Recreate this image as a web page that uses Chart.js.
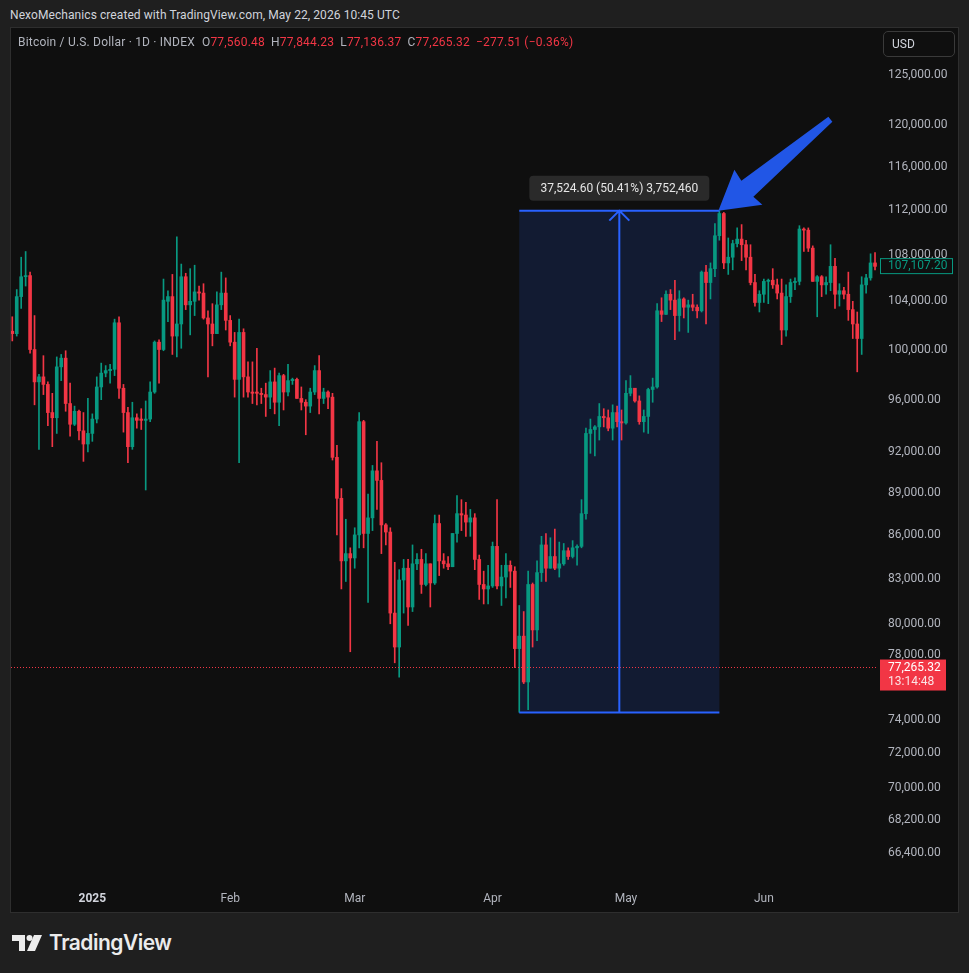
<!DOCTYPE html>
<html>
<head>
<meta charset="utf-8">
<script src="https://cdn.jsdelivr.net/npm/chart.js@4.4.1/dist/chart.umd.min.js"></script>
<style>
html, body { margin: 0; padding: 0; width: 969px; height: 973px; overflow: hidden; background: #1f1f1f; font-family: Roboto, 'Liberation Sans', sans-serif; }
#credit { position: absolute; left: 10px; top: 7px; font-size: 12px; line-height: 16px; letter-spacing: 0.08px; color: #d1d4dc; white-space: nowrap; }
#frame { position: absolute; left: 10px; top: 27px; width: 947px; height: 884px; border: 1px solid #2e2e2e; background: #0f0f0f; }
#chart { position: absolute; left: 0; top: 0; }
#legend { position: absolute; left: 7px; top: 7px; font-size: 12px; line-height: 14px; letter-spacing: 0.2px; color: #b2b5be; white-space: nowrap; }
#legend .k { margin-left: 6px; }
#legend .r { color: #f23645; }
#usd { position: absolute; left: 872px; top: 3px; width: 62px; height: 24px; padding-left: 8px; border: 1px solid #3a3a3a; border-radius: 5px; font-size: 12px; line-height: 24px; color: #d1d4dc; }
#logo { position: absolute; left: 12px; top: 931px; height: 24px; }
#logo svg { position: absolute; left: 0; top: 4px; }
#logo span { position: absolute; left: 37px; top: 0; font-family: Inter, 'Open Sans', sans-serif; font-weight: 600; font-size: 21px; line-height: 24px; letter-spacing: -0.5px; color: #ececec; }
</style>
</head>
<body>
<div id="credit">NexoMechanics created with TradingView.com, May 22, 2026 10:45 UTC</div>
<div id="frame">
  <canvas id="chart" width="947" height="884"></canvas>
  <div id="legend">Bitcoin / U.S. Dollar · 1D · INDEX<span class="k" style="margin-left:7px">O<span class="r">77,560.48</span></span><span class="k">H<span class="r">77,844.23</span></span><span class="k">L<span class="r">77,136.37</span></span><span class="k">C<span class="r">77,265.32</span></span><span class="k r">−277.51 (−0.36%)</span></div>
  <div id="usd">USD</div>
</div>
<div id="logo">
  <svg width="31" height="17" viewBox="0 0 31 17">
    <path d="M0 0 H13 V16 H7 V6 H0 Z" fill="#ececec"/>
    <circle cx="17.5" cy="3" r="3" fill="#ececec"/>
    <path d="M22 0 H30 L23 16 H15 Z" fill="#ececec"/>
  </svg>
  <span>TradingView</span>
</div>

<script>
// velas diarias desde el 14 dic 2024 (miles de USD)
const startDay = -18 // 14 dic 2024 contado desde el 1 ene 2025
const K = 1000

const open = [
  101.5, 101.3, 104.4, 106.1, 106.2, 100.0, 97.4, 97.8, 97.2, 95.0, 94.6, 98.6, 99.3, 95.7, 94.1, 95.1, 93.6, 92.6,
  93.4, 94.5, 97.0, 98.1, 98.3, 98.4, 102.2, 96.9, 95.0, 92.4, 94.6, 94.5, 94.4, 94.5, 96.6, 100.6, 100.0, 104.0,
  104.4, 101.1, 102.1, 106.1, 103.7, 104.0, 104.8, 104.7, 102.6, 102.1, 101.3, 103.7, 104.7,
  102.4, 100.6, 97.6, 101.4, 97.8, 96.6, 96.6, 96.5, 96.4, 96.2, 97.4, 95.8, 97.9, 96.6, 97.5, 97.6, 96.1, 95.8,
  95.5, 96.6, 98.3, 96.1, 96.6, 96.2, 91.6, 88.6, 84.2, 84.7,
  84.4, 86.0, 94.3, 86.1, 87.2, 90.6, 89.9, 86.7, 86.2, 80.7, 78.5, 82.9, 83.7, 81.1, 84.0, 84.3, 82.6, 84.0,
  82.7, 86.8, 84.2, 84.0, 83.8, 86.1, 87.5, 87.4, 86.9, 87.2, 84.3, 82.6, 82.3,
  82.5, 85.2, 82.5, 83.1, 83.9, 83.5, 78.4, 79.2, 76.3, 82.6, 79.6, 83.4, 85.3, 83.7, 84.5, 83.7, 84.0, 84.9,
  84.5, 85.1, 85.2, 87.5, 93.4, 93.7, 93.9, 94.7, 94.6, 93.8, 95.0, 94.3,
  94.2, 96.5, 96.9, 95.9, 94.3, 94.7, 96.8, 97.0, 103.2, 102.9, 104.6, 104.1, 102.8, 104.2, 103.5, 103.7, 103.5,
  103.2, 106.5, 105.6, 106.8, 109.7, 111.7, 107.3, 107.8, 109.0, 109.4, 108.9, 107.8, 105.6, 103.9,
  104.6, 105.7, 105.8, 105.4, 104.7, 101.6, 104.4, 105.6, 105.7, 110.3, 110.2, 108.6, 105.7, 106.1, 105.4, 105.6,
  107.0, 104.6, 104.9, 104.6, 103.3, 102.1, 100.9, 105.4, 106.0, 107.3
]
const high = [
  102.7, 105.0, 107.8, 108.3, 106.5, 102.8, 98.0, 99.5, 97.4, 96.5, 99.4, 99.6, 99.9, 97.3, 95.5, 95.2, 95.0, 96.1,
  94.9, 97.8, 98.9, 98.7, 98.8, 102.5, 102.7, 97.2, 95.4, 95.8, 94.9, 95.3, 95.9, 97.4, 100.7, 100.8, 105.9, 104.9,
  106.3, 109.6, 107.2, 106.4, 106.8, 107.1, 105.3, 105.5, 103.2, 103.8, 104.8, 106.5, 106.0,
  102.8, 101.4, 102.5, 101.7, 99.0, 99.0, 100.1, 96.9, 97.3, 98.3, 98.5, 98.1, 98.0, 98.8, 97.7, 97.7, 97.0,
  96.0, 96.9, 98.7, 99.5, 96.9, 96.7, 96.5, 92.5, 89.3, 87.1, 85.1,
  86.5, 95.0, 94.4, 88.9, 91.0, 92.8, 91.2, 86.8, 86.5, 84.1, 83.6, 84.3, 84.3, 85.3, 84.7, 85.0, 84.7, 84.0,
  87.4, 87.4, 84.7, 84.5, 86.1, 88.8, 88.5, 88.3, 87.8, 87.5, 84.6, 83.5, 83.9,
  85.5, 88.5, 83.9, 84.7, 84.2, 83.8, 81.2, 80.8, 83.5, 82.7, 84.2, 85.9, 86.1, 85.8, 86.4, 85.5, 85.4, 85.1,
  85.6, 85.3, 88.5, 93.8, 94.5, 94.0, 95.7, 95.3, 95.2, 95.6, 95.5, 95.2,
  97.5, 97.9, 96.9, 96.3, 95.2, 96.9, 97.7, 103.8, 104.3, 104.9, 105.0, 105.8, 104.9, 104.3, 104.1, 104.6, 103.7,
  106.6, 107.1, 107.3, 110.8, 111.96, 111.8, 109.5, 109.3, 110.4, 110.7, 109.3, 108.9, 106.3, 104.9,
  105.9, 105.9, 106.8, 105.9, 105.9, 105.4, 105.9, 106.0, 110.6, 110.4, 110.4, 108.8, 106.2, 106.2, 106.1, 108.9,
  107.7, 105.5, 105.2, 106.5, 104.0, 103.1, 106.1, 106.3, 108.1, 108.2
]
const low = [
  100.7, 101.1, 103.4, 105.3, 99.7, 95.6, 92.2, 96.4, 94.0, 92.4, 93.4, 97.5, 95.1, 93.2, 94.0, 92.9, 91.3, 92.0,
  92.8, 94.2, 96.0, 97.8, 97.3, 97.9, 96.1, 93.5, 91.2, 92.2, 93.8, 93.7, 89.2, 94.3, 96.5, 97.3, 99.9, 102.3,
  99.6, 99.4, 100.1, 103.3, 101.2, 102.8, 104.1, 102.5, 97.8, 100.3, 101.3, 103.3, 101.6,
  100.3, 96.2, 91.2, 96.2, 96.2, 95.7, 95.6, 95.7, 94.7, 95.3, 94.9, 94.0, 95.2, 96.3, 97.2, 96.1, 95.2,
  93.3, 95.0, 96.4, 94.9, 95.7, 95.3, 91.4, 86.0, 82.3, 82.8, 78.2,
  83.7, 85.1, 85.1, 81.4, 86.3, 87.8, 84.7, 85.3, 80.0, 77.5, 76.6, 80.7, 79.9, 80.8, 83.6, 82.0, 82.5, 81.1,
  82.6, 83.2, 83.7, 83.6, 83.8, 85.5, 86.3, 85.9, 85.9, 83.6, 81.6, 81.3, 81.3,
  82.4, 82.3, 81.2, 81.7, 82.4, 77.2, 74.44, 76.2, 74.6, 78.5, 78.9, 82.8, 82.8, 83.7, 83.6, 83.1, 83.9, 84.3,
  84.4, 83.9, 85.1, 87.1, 91.9, 91.7, 92.9, 93.9, 93.6, 92.9, 93.9, 92.9,
  94.1, 96.3, 95.8, 94.1, 93.5, 93.4, 95.8, 96.9, 102.3, 102.9, 103.3, 100.8, 101.5, 102.6, 101.4, 103.2, 102.6,
  103.1, 102.1, 104.2, 106.1, 109.3, 106.8, 106.3, 106.7, 108.7, 107.5, 106.7, 105.4, 103.6, 103.1,
  103.9, 103.8, 105.1, 104.2, 100.4, 101.1, 103.9, 105.0, 105.4, 108.3, 108.3, 105.7, 102.7, 104.4, 104.6, 104.9,
  103.4, 103.6, 104.2, 102.4, 100.9, 98.2, 99.6, 104.7, 105.8, 106.7
]
const close = [
  101.3, 104.4, 106.1, 106.2, 100.0, 97.4, 97.8, 97.2, 95.0, 94.6, 98.6, 99.3, 95.7, 94.1, 95.1, 93.6, 92.6, 93.4,
  94.5, 97.0, 98.1, 98.3, 98.4, 102.2, 96.9, 95.0, 92.4, 94.6, 94.4, 94.4, 94.5, 96.6, 100.6, 100.0, 104.1, 104.4,
  101.1, 102.1, 106.1, 103.7, 104.0, 104.8, 104.7, 102.6, 102.1, 101.3, 103.7, 104.7, 102.4,
  100.6, 97.6, 101.4, 97.8, 96.6, 96.5, 96.5, 96.4, 96.2, 97.4, 95.8, 97.9, 96.6, 97.5, 97.6, 96.1, 95.8,
  95.5, 96.6, 98.3, 96.1, 96.6, 96.2, 91.6, 88.6, 84.2, 84.7, 84.4,
  86.0, 94.3, 86.1, 87.2, 90.6, 89.9, 86.7, 86.2, 80.7, 78.5, 82.9, 83.7, 81.1, 84.0, 84.3, 82.6, 84.0, 82.7,
  86.8, 84.2, 84.0, 83.8, 86.1, 87.5, 87.4, 86.9, 87.2, 84.3, 82.6, 82.3, 82.5,
  85.2, 82.5, 83.1, 83.9, 83.5, 78.4, 79.2, 76.3, 82.6, 79.6, 83.4, 85.3, 83.7, 84.5, 83.7, 84.0, 84.9, 84.5,
  85.1, 85.2, 87.5, 93.4, 93.7, 93.9, 94.7, 94.6, 93.8, 95.0, 94.3, 94.2,
  96.5, 96.9, 95.9, 94.3, 94.7, 96.8, 97.0, 103.2, 102.9, 104.6, 104.1, 102.8, 104.2, 103.5, 103.7, 103.5, 103.2,
  106.5, 105.6, 106.8, 109.7, 111.7, 107.3, 107.8, 109.0, 109.4, 108.9, 107.8, 105.6, 103.9, 104.6,
  105.7, 105.8, 105.4, 104.7, 101.6, 104.4, 105.6, 105.7, 110.3, 110.2, 108.6, 105.7, 106.1, 105.4, 105.6, 107.0,
  104.6, 104.9, 104.6, 103.3, 102.1, 100.9, 105.4, 106.0, 107.3, 107.0
]

// eje de tiempo
const monthDays = [0, 31, 59, 90, 120, 151]
const monthLabels = ['2025', 'Feb', 'Mar', 'Apr', 'May', 'Jun']

// eje de precios
const priceTicks = [125000, 120000, 116000, 112000, 108000, 104000, 100000, 96000, 92000, 89000, 86000,
  83000, 80000, 78000, 74000, 72000, 70000, 68200, 66400]

// herramienta de medicion (7 abr -> 22 may)
const measureFrom = 96, measureTo = 141
const measureLow = 74436, measureHigh = 111960.6
const measureText = '37,524.60 (50.41%) 3,752,460'

const lastPrice = 77265.32, lastTime = '13:14:48'
const markPrice = 107107.20

const UP = '#089981', DOWN = '#f23645', BLUE = '#2962ff'

const colors = close.map((c, i) => c >= open[i] ? UP : DOWN)
const wicks = close.map((c, i) => ({ x: startDay + i, y: [low[i] * K, high[i] * K] }))
const bodies = close.map((c, i) => ({ x: startDay + i, y: [open[i] * K, c * K] }))

const fmt = v => v.toLocaleString('en-US', { minimumFractionDigits: 2, maximumFractionDigits: 2 })

const measurePlugin = {
  id: 'measure',
  beforeDatasetsDraw(chart) {
    const { ctx, scales: { x, y } } = chart
    const x1 = x.getPixelForValue(measureFrom), x2 = x.getPixelForValue(measureTo)
    const yt = y.getPixelForValue(measureHigh), yb = y.getPixelForValue(measureLow)
    ctx.save()
    ctx.fillStyle = 'rgba(41,98,255,0.15)'
    ctx.fillRect(x1, yt, x2 - x1, yb - yt)
    ctx.restore()
  },
  afterDatasetsDraw(chart) {
    const { ctx, chartArea, scales: { x, y } } = chart
    const x1 = x.getPixelForValue(measureFrom), x2 = x.getPixelForValue(measureTo)
    const yt = y.getPixelForValue(measureHigh), yb = y.getPixelForValue(measureLow)
    const mid = (x1 + x2) / 2
    ctx.save()
    // linea del precio actual
    const yp = y.getPixelForValue(lastPrice)
    ctx.strokeStyle = DOWN
    ctx.lineWidth = 1
    ctx.setLineDash([1, 2])
    ctx.beginPath()
    ctx.moveTo(chartArea.left, Math.round(yp) + 0.5)
    ctx.lineTo(chartArea.right, Math.round(yp) + 0.5)
    ctx.stroke()
    ctx.setLineDash([])

    // caja de medicion
    ctx.strokeStyle = BLUE
    ctx.lineWidth = 2
    ctx.beginPath()
    ctx.moveTo(x1, yt); ctx.lineTo(x2, yt)
    ctx.moveTo(x1, yb); ctx.lineTo(x2, yb)
    ctx.moveTo(mid, yb); ctx.lineTo(mid, yt)
    ctx.moveTo(mid - 10, yt + 10); ctx.lineTo(mid, yt); ctx.lineTo(mid + 10, yt + 10)
    ctx.stroke()

    // etiqueta
    ctx.fillStyle = '#2a2a2a'
    ctx.beginPath()
    ctx.roundRect(mid - 90, yt - 35, 180, 25, 4)
    ctx.fill()
    ctx.fillStyle = '#e6e6e6'
    ctx.font = '12px Roboto, "Liberation Sans", sans-serif'
    ctx.textAlign = 'center'
    ctx.textBaseline = 'middle'
    ctx.fillText(measureText, mid, yt - 22)

    // flecha
    const tx = x2 - 1, ty = yt
    ctx.fillStyle = '#2156e6'
    ctx.beginPath()
    ctx.moveTo(tx, ty)
    ctx.lineTo(tx + 16, ty - 41)
    ctx.lineTo(tx + 23, ty - 30)
    ctx.lineTo(tx + 110, ty - 94)
    ctx.lineTo(tx + 114, ty - 89)
    ctx.lineTo(tx + 35, ty - 14)
    ctx.lineTo(tx + 44, ty - 6)
    ctx.closePath()
    ctx.fill()
    ctx.restore()
  },
  afterDraw(chart) {
    const { ctx, chartArea, scales: { y } } = chart
    const left = chartArea.right + 2
    ctx.save()
    ctx.font = '12px Roboto, "Liberation Sans", sans-serif'
    ctx.textAlign = 'left'
    ctx.textBaseline = 'middle'

    const ym = y.getPixelForValue(markPrice)
    ctx.fillStyle = '#0f0f0f'
    ctx.fillRect(left, ym - 7, 73, 16)
    ctx.strokeStyle = UP
    ctx.lineWidth = 1
    ctx.strokeRect(left + 0.5, ym - 6.5, 72, 15)
    ctx.fillStyle = UP
    ctx.fillText(fmt(markPrice), left + 8, ym + 1)

    const yp = y.getPixelForValue(lastPrice)
    ctx.fillStyle = DOWN
    ctx.fillRect(left, yp - 7, 66, 31)
    ctx.fillStyle = '#ffffff'
    ctx.fillText(fmt(lastPrice), left + 8, yp + 1)
    ctx.fillStyle = '#fbe3e5'
    ctx.fillText(lastTime, left + 8, yp + 15)
    ctx.restore()
  }
}

Chart.defaults.font.family = 'Roboto, "Liberation Sans", sans-serif'
Chart.defaults.font.size = 12

new Chart(document.getElementById('chart'), {
  type: 'bar',
  data: {
    datasets: [{
      data: wicks,
      backgroundColor: colors,
      barThickness: 1,
      grouped: false,
      borderWidth: 0
    }, {
      data: bodies,
      backgroundColor: colors,
      barThickness: 3,
      minBarLength: 1,
      grouped: false,
      borderWidth: 0
    }]
  },
  options: {
    responsive: false,
    animation: false,
    devicePixelRatio: 1,
    layout: { padding: 0 },
    plugins: { legend: { display: false }, tooltip: { enabled: false } },
    scales: {
      x: {
        type: 'linear',
        min: -18.29,
        max: 176.67,
        bounds: 'data',
        offset: false,
        grid: { display: false, drawTicks: false },
        border: { display: false },
        afterBuildTicks: s => { s.ticks = monthDays.map(v => ({ value: v })) },
        afterFit: s => { s.height = 32; s.paddingLeft = 0; s.paddingRight = 0 },
        ticks: {
          autoSkip: false,
          maxRotation: 0,
          padding: 12,
          color: c => c.index === 0 ? '#d1d4dc' : '#b2b5be',
          font: c => ({ size: 12, weight: c.index === 0 ? 'bold' : 'normal' }),
          callback: v => monthLabels[monthDays.indexOf(v)]
        }
      },
      y: {
        type: 'logarithmic',
        position: 'right',
        min: 64946,
        max: 129900,
        bounds: 'data',
        beginAtZero: false,
        grid: { display: false, drawTicks: false },
        border: { display: false },
        afterBuildTicks: s => { s.ticks = priceTicks.map(v => ({ value: v })) },
        afterFit: s => { s.width = 80; s.paddingTop = 0; s.paddingBottom = 0 },
        ticks: {
          autoSkip: false,
          padding: 10,
          color: '#b2b5be',
          callback: v => fmt(v)
        }
      }
    }
  },
  plugins: [measurePlugin]
})
</script>
</body>
</html>
